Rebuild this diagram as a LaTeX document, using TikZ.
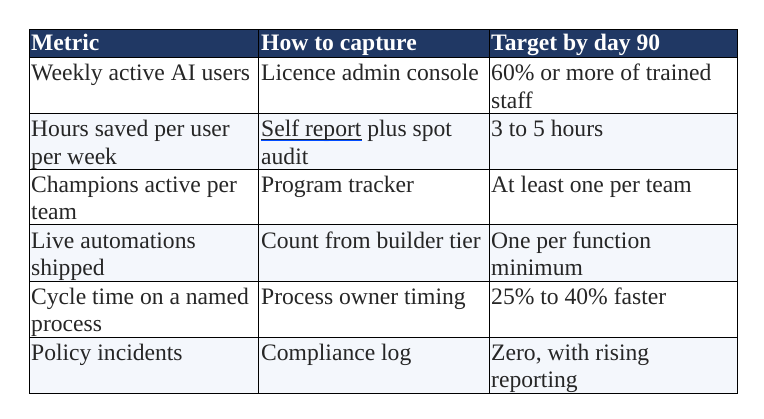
\documentclass[tikz,border=0pt]{standalone}
\usepackage{fontspec}
\setmainfont{Liberation Serif}
\definecolor{hdr}{HTML}{203864}
\definecolor{alt}{HTML}{F4F7FC}
\definecolor{txt}{HTML}{262626}
\begin{document}
\begin{tikzpicture}[x=1pt,y=-1pt,
  cell/.style={anchor=base west,inner sep=0pt,font=\fontsize{23.6}{27}\selectfont,text=txt},
  head/.style={cell,text=white,font=\fontsize{23.6}{27}\selectfont\bfseries}]
\useasboundingbox (0,0) rectangle (764,419);
\fill[white] (0,0) rectangle (764,419);
\fill[hdr] (29.3,29.3) rectangle (737.7,57.7);
\foreach \t in {113.3,225,337}{\fill[alt] (29.3,\t) rectangle (737.7,\t+56);}
\begin{scope}[line width=1pt,black]
\draw (29.3,29.3) rectangle (737.7,393.3);
\foreach \y in {57.7,113.3,169.2,225,281.2,337.2}{\draw (29.3,\y) -- (737.7,\y);}
\draw (258.5,29.3) -- (258.5,393.3);
\draw (489.3,29.3) -- (489.3,393.3);
\end{scope}
\node[head] (h1) at (31,51) {Metric};
\node[head] (h2) at (261,51) {How to capture};
\node[head] (h3) at (491,51) {Target by day 90};
% row 1
\node[cell] (a1) at (31,81) {Weekly active AI users};
\node[cell] (b1) at (261,81) {Licence admin console};
\node[cell] (c1) at (491,81) {60\% or more of trained};
\node[cell] (c1b) at (491,108.5) {staff};
% row 2
\node[cell] (a2) at (31,136.7) {Hours saved per user};
\node[cell] (a2b) at (31,164.2) {per week};
\node[cell] (b2) at (261,136.7) {Self report plus spot};
\node[cell] (b2b) at (261,164.2) {audit};
\node[cell] (c2) at (491,136.7) {3 to 5 hours};
% row 3
\node[cell] (a3) at (31,192.5) {Champions active per};
\node[cell] (a3b) at (31,220) {team};
\node[cell] (b3) at (261,192.5) {Program tracker};
\node[cell] (c3) at (491,192.5) {At least one per team};
% row 4
\node[cell] (a4) at (31,248.4) {Live automations};
\node[cell] (a4b) at (31,275.9) {shipped};
\node[cell] (b4) at (261,248.4) {Count from builder tier};
\node[cell] (c4) at (491,248.4) {One per function};
\node[cell] (c4b) at (491,275.9) {minimum};
% row 5
\node[cell] (a5) at (31,304.4) {Cycle time on a named};
\node[cell] (a5b) at (31,331.9) {process};
\node[cell] (b5) at (261,304.4) {Process owner timing};
\node[cell] (c5) at (491,304.4) {25\% to 40\% faster};
% row 6
\node[cell] (a6) at (31,360.4) {Policy incidents};
\node[cell] (b6) at (261,360.4) {Compliance log};
\node[cell] (c6) at (491,360.4) {Zero, with rising};
\node[cell] (c6b) at (491,387.9) {reporting};
\draw[txt,line width=0.7pt] (261,139) -- (362,139);
\draw[blue!70!cyan,line width=1pt] (261,140.8) -- (362,140.8);
\end{tikzpicture}
\end{document}
